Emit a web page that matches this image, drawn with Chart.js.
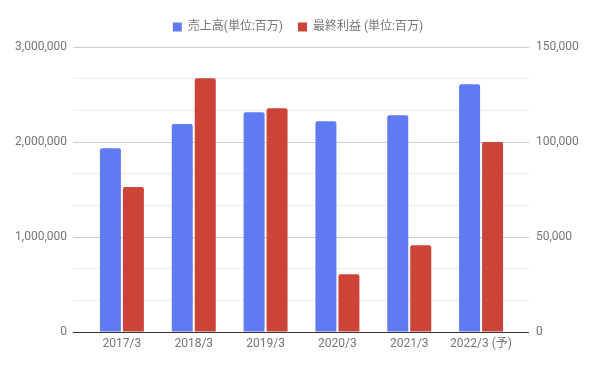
<!DOCTYPE html>
<html>
<head>
<meta charset="utf-8">
<script src="https://cdn.jsdelivr.net/npm/chart.js@4/dist/chart.umd.min.js"></script>
<style>
  body { margin: 0; background: #fff; }
  #chart { display: block; }
</style>
</head>
<body>
<canvas id="chart" width="596" height="368"></canvas>
<script>
// データ
const years = ['2017/3', '2018/3', '2019/3', '2020/3', '2021/3', '2022/3 (予)'];
const sales = [1935000, 2190000, 2313000, 2218000, 2281000, 2607000];
const profit = [76300, 133500, 117700, 30400, 45600, 100000];
const salesTicks = [0, 1000000, 2000000, 3000000];
const profitTicks = [0, 50000, 100000, 150000];

const FONT = "Roboto, 'Noto Sans CJK JP', sans-serif";
const TEXT = '#757575';

function gridColor(majors) {
    return function(ctx) {
        const v = ctx.tick.value;
        if (Math.abs(v) < 1e-6) return '#333333';
        const isMajor = majors.some(m => Math.abs(m - v) < 1);
        return isMajor ? '#cccccc' : '#ebebeb';
    };
}

function majorLabel(majors) {
    return function(value) {
        const m = majors.find(t => Math.abs(t - value) < 1);
        return m === undefined ? '' : m.toLocaleString('en-US');
    };
}

// 凡例とグラフの間隔
const legendGap = {
    id: 'legendGap',
    beforeLayout(chart) {
        if (chart.legend && !chart.legend._gapPatched) {
            const fit = chart.legend.fit;
            chart.legend.fit = function() {
                fit.call(this);
                this.height += 4;
            };
            chart.legend._gapPatched = true;
        }
    }
};

const ctx = document.getElementById('chart').getContext('2d');
new Chart(ctx, {
    type: 'bar',
    data: {
        labels: years,
        datasets: [{
            label: '売上高(単位:百万)',
            data: sales,
            yAxisID: 'ySales',
            backgroundColor: '#607bf2',
            borderRadius: 2,
            categoryPercentage: 0.64,
            barPercentage: 0.913
        }, {
            label: '最終利益 (単位:百万)',
            data: profit,
            yAxisID: 'yProfit',
            backgroundColor: '#cc4438',
            borderRadius: 2,
            categoryPercentage: 0.64,
            barPercentage: 0.913
        }]
    },
    options: {
        responsive: false,
        animation: false,
        layout: { padding: { top: 6, bottom: 0, left: 0, right: 0 } },
        plugins: {
            legend: {
                position: 'top',
                labels: {
                    boxWidth: 9,
                    boxHeight: 9,
                    padding: 15,
                    color: TEXT,
                    font: { family: FONT, size: 12 }
                }
            },
            tooltip: { enabled: false }
        },
        scales: {
            x: {
                grid: { display: false, drawTicks: false },
                border: { display: false },
                ticks: {
                    color: TEXT,
                    padding: 5,
                    font: { family: FONT, size: 12 },
                    maxRotation: 0
                },
                afterFit: (scale) => { scale.height = 36; }
            },
            ySales: {
                position: 'left',
                min: 0,
                max: 3000000,
                border: { display: false },
                grid: {
                    color: gridColor(salesTicks),
                    tickLength: 13,
                    drawTicks: true
                },
                ticks: {
                    stepSize: 1000000 / 3,
                    color: TEXT,
                    padding: 6,
                    font: { family: FONT, size: 12 },
                    callback: majorLabel(salesTicks)
                },
                afterFit: (scale) => { scale.width = 86; }
            },
            yProfit: {
                position: 'right',
                min: 0,
                max: 150000,
                border: { display: false },
                grid: {
                    drawOnChartArea: false,
                    color: gridColor(profitTicks),
                    tickLength: 12,
                    drawTicks: true
                },
                ticks: {
                    stepSize: 50000 / 3,
                    color: TEXT,
                    padding: 7,
                    font: { family: FONT, size: 12 },
                    callback: majorLabel(profitTicks)
                },
                afterFit: (scale) => { scale.width = 79; }
            }
        }
    },
    plugins: [legendGap]
});
</script>
</body>
</html>
